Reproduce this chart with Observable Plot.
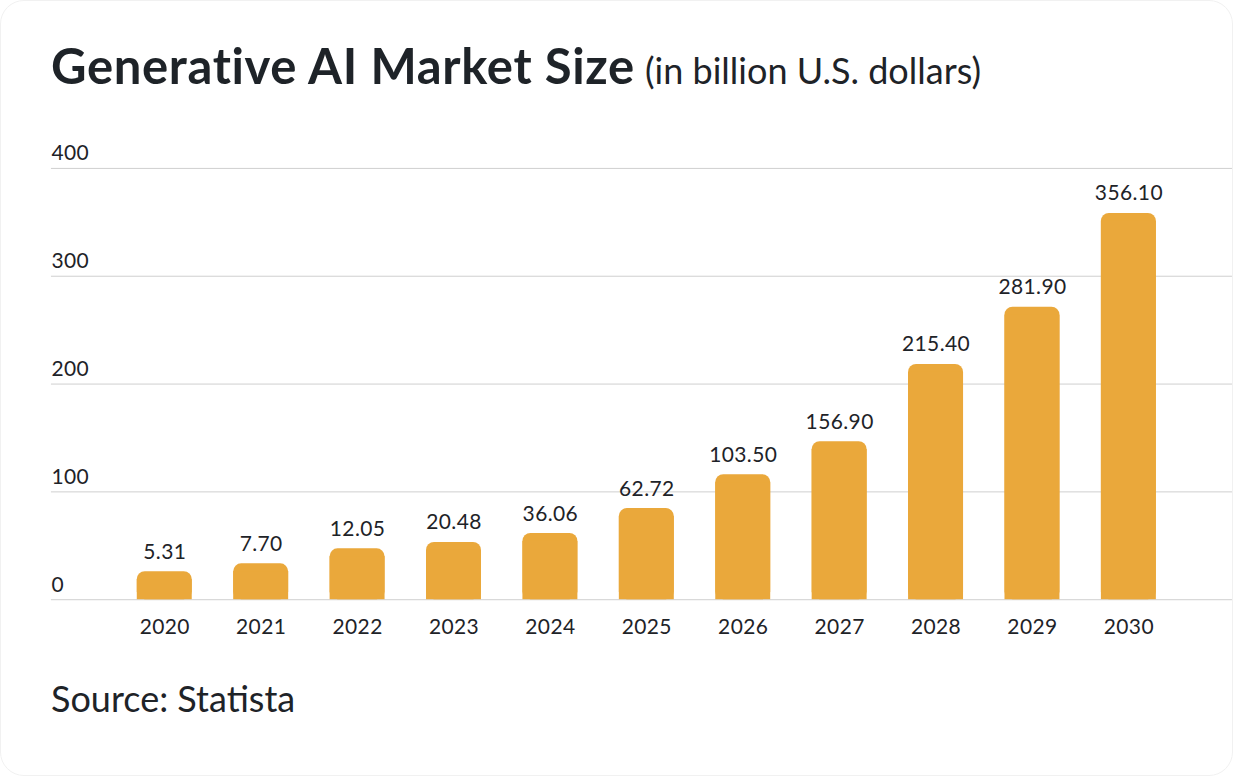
<!DOCTYPE html>
<html>
<head>
<meta charset="utf-8">
<script src="https://cdn.jsdelivr.net/npm/d3@7"></script>
<script src="https://cdn.jsdelivr.net/npm/@observablehq/plot@0.6"></script>
<style>
  html, body { margin: 0; padding: 0; background: #ffffff; }
  #card {
    position: relative; width: 1233px; height: 776px; box-sizing: border-box;
    border: 1px solid #f1f1f1; border-radius: 24px; background: #fff; overflow: hidden;
    font-family: Lato, "Noto Sans", sans-serif; color: #1e2328;
  }
  #title { position: absolute; left: 50px; top: 40px; white-space: nowrap; line-height: 1; }
  #title .main { font-size: 49px; font-weight: 700; letter-spacing: 0.65px; }
  #title .sub { font-size: 36px; font-weight: 400; margin-left: 6px; }
  #chart { position: absolute; left: 0; top: 120px; }
  #caption { position: absolute; left: 50px; top: 679px; font-size: 36px; line-height: 1; }
</style>
</head>
<body>
<div id="card">
  <div id="title"><span class="main">Generative AI Market Size</span> <span class="sub">(in billion U.S. dollars)</span></div>
  <div id="chart"></div>
  <div id="caption">Source: Statista</div>
</div>
<script>
const years = ["2020","2021","2022","2023","2024","2025","2026","2027","2028","2029","2030"];
const barHeights = [25.9, 33.3, 47.2, 53.1, 61.4, 84.5, 116, 146.6, 218.2, 271.3, 358.3];
// value labels printed above the bars
const valueLabels = ["5.31","7.70","12.05","20.48","36.06","62.72","103.50","156.90","215.40","281.90","356.10"];
const yTicks = [0, 100, 200, 300, 400];

const data = years.map((year, i) => ({year, height: barHeights[i], label: valueLabels[i]}));
const barColor = "#EAA83B";
const textColor = "#1e2328";

const chart = Plot.plot({
  width: 1233,
  height: 540,
  marginTop: 47,
  marginBottom: 61,
  marginLeft: 50,
  marginRight: 0,
  style: {fontFamily: "Lato, 'Noto Sans', sans-serif", fontSize: "21px", color: textColor, background: "transparent", letterSpacing: "0.4px"},
  x: {domain: years, type: "band", paddingInner: 0.43, paddingOuter: 0.84, align: 0.53, round: false, label: null},
  y: {domain: [0, 400], label: null, axis: null},
  marks: [
    Plot.ruleY(yTicks, {stroke: "#cfcfcf", strokeWidth: 1}),
    Plot.text(yTicks, {y: d => d, frameAnchor: "left", textAnchor: "start", lineAnchor: "bottom", dy: -8, fill: textColor, fontSize: 21}),
    Plot.barY(data, {x: "year", y: "height", fill: barColor, rx: 8}),
    Plot.barY(data, {x: "year", y: "height", fill: barColor, insetTop: 8}),
    Plot.text(data, {x: "year", y: "height", text: "label", lineAnchor: "bottom", dy: -13, fill: textColor, fontSize: 21}),
    Plot.axisX({tickSize: 0, tickPadding: 19, fontSize: 21, fill: textColor, label: null})
  ]
});
document.getElementById("chart").appendChild(chart);
</script>
</body>
</html>
